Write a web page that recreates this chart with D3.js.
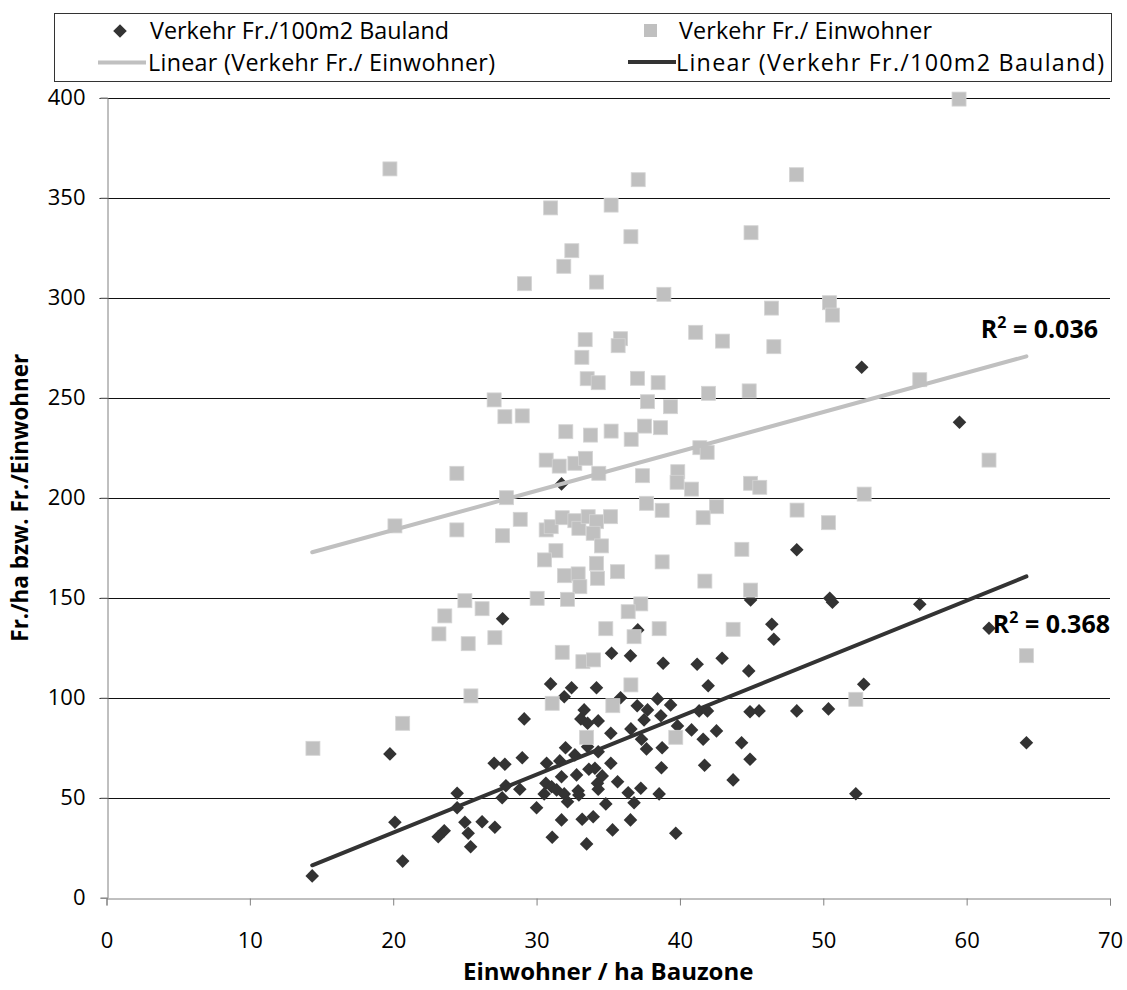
<!DOCTYPE html>
<html>
<head>
<meta charset="utf-8">
<script src="https://cdnjs.cloudflare.com/ajax/libs/d3/7.8.5/d3.min.js"></script>
<style>
  body { margin: 0; background: #fff; }
  svg text { font-family: "Open Sans", "Noto Sans", sans-serif; fill: #000; }
</style>
</head>
<body>
<svg id="chart" width="1127" height="990"></svg>
<script>
// values: [Einwohner/ha, Fr.]
var bauland = [
  [52.68,265.2],[59.5,237.7],[31.74,206.9],[48.15,174],[50.45,149.7],[50.64,147.7],[56.73,146.7],
  [44.93,148.9],[46.41,136.7],[46.55,129.2],[61.56,134.7],[64.17,77.5],[52.27,52],[52.82,106.7],
  [50.36,94.4],[48.15,93.4],[45.52,93.4],[44.89,93],[44.8,113.4],[42.94,119.7],[41.2,116.7],
  [41.97,106],[41.34,93.4],[41.92,93.4],[40.81,83.9],[42.55,83.4],[41.62,79.2],[44.3,77.5],
  [44.89,69.2],[41.72,66.2],[43.71,58.9],[27.63,139.5],[37.06,133.9],[35.23,122.2],[36.55,121],
  [38.83,117.2],[30.98,106.9],[32.44,105],[31.93,100.5],[34.18,105],[35.86,100],[37.02,96],
  [37.74,93.9],[38.44,99.4],[39.35,96.4],[38.67,91],[37.5,88.9],[39.83,85.9],[33.32,93.9],
  [33.09,89.4],[33.56,87.2],[34.3,88.4],[35.18,82.2],[36.58,84.4],[37.32,79.2],[37.67,74.4],
  [38.76,75],[38.71,65],[38.55,51.9],[39.71,32.2],[29.14,89.4],[19.77,71.9],[32.02,75],
  [32.67,71.4],[33.56,75.5],[34.3,73],[31.62,68.4],[30.7,67.2],[29.0,70],[27.79,66.7],
  [27.04,67.2],[35.18,67.2],[33.65,64.2],[34.07,64.7],[34.58,60.9],[32.79,61.4],[31.74,60.5],
  [34.25,57.2],[34.3,54.2],[35.65,58],[30.65,57.2],[31.05,55.5],[31.4,53.9],[31.93,51.9],
  [32.9,53.5],[32.95,51.4],[30.53,51.9],[32.16,48],[36.39,52.5],[37.27,54.7],[36.8,47.5],
  [34.83,46.9],[28.83,54.2],[27.86,56],[27.6,50],[30.0,45],[31.74,38.9],[33.18,39.2],
  [33.95,40.5],[36.55,38.9],[35.3,33.9],[31.09,30.2],[33.49,26.9],[24.46,52.2],[24.46,45],
  [20.12,37.7],[25.0,37.7],[26.2,38],[27.09,35.2],[25.23,32.2],[23.56,33.5],[23.14,30.5],
  [25.4,25.5],[20.66,18.3],[14.35,10.9]
];

var einwohner = [
  [59.47,399.3],[19.77,364.4],[37.09,359],[30.98,344.9],[35.2,346.3],[36.58,330.5],[32.46,323.5],
  [31.9,315.7],[29.16,307],[34.18,307.8],[38.88,301.7],[41.1,282.7],[33.39,279],[35.86,279.5],
  [35.69,276],[33.16,270.2],[33.53,259.5],[34.3,257.5],[37.04,259.7],[38.48,257.5],[27.04,248.9],
  [27.79,240.5],[29.0,240.9],[37.74,248],[39.34,245.5],[32.04,233],[33.76,231.3],[35.2,233.3],
  [37.53,235.8],[38.65,235],[36.6,229.2],[30.67,218.8],[31.58,215.8],[32.67,217.2],[33.42,219.7],
  [34.34,212.2],[24.44,212.2],[37.39,211],[39.85,213],[39.8,207.7],[40.81,204.3],[27.9,200],
  [20.12,185.9],[24.44,183.9],[27.63,181],[28.86,189.2],[30.67,183.9],[31.02,185.5],[31.79,190],
  [32.67,188.5],[32.95,184.7],[33.6,190.5],[34.18,188],[33.95,182.2],[35.16,190.5],[34.53,175.9],
  [31.35,173.5],[30.56,168.9],[34.18,167.2],[35.64,163],[38.76,167.9],[31.95,161],[32.9,161.9],
  [33.02,155.5],[34.25,159.7],[30.04,149.7],[32.16,149.2],[37.27,146.9],[36.39,143],[38.55,134.5],
  [34.83,134.5],[36.8,130.5],[25.0,148.5],[26.2,144.5],[23.6,140.9],[23.19,131.9],[25.23,127],
  [27.09,130],[31.79,122.7],[33.23,118],[33.97,118.9],[36.58,106.4],[25.42,100.9],[31.09,97.2],
  [35.32,96],[20.66,87.2],[33.49,80.2],[39.71,80.2],[14.4,74.7],[43.71,134.2],[64.17,121],
  [52.27,99.2],[48.13,361.5],[44.96,332.5],[46.39,294.8],[50.43,297.5],[50.64,291.3],[42.97,278.3],
  [46.55,275.5],[56.73,259],[41.99,252.2],[44.83,253.4],[41.39,225],[41.9,222.7],[44.93,207.2],
  [45.57,205.2],[52.85,201.8],[61.56,218.8],[38.76,193.7],[42.55,195.5],[41.62,190],[48.17,193.8],
  [50.36,187.5],[44.32,174.2],[41.74,158.3],[44.93,153.8],[37.67,197.2]
];

// linear trend lines as shown (slope, intercept) and their R² labels
var trendEinwohner = [1.966, 144.5];
var trendBauland = [2.899, -25.4];
var r2Labels = ["0.036", "0.368"];

var xTicks = [0, 10, 20, 30, 40, 50, 60, 70];
var yTicks = [0, 50, 100, 150, 200, 250, 300, 350, 400];

var seriesNames = ["Verkehr Fr./100m2 Bauland", "Verkehr Fr./ Einwohner",
                   "Linear (Verkehr Fr./ Einwohner)", "Linear (Verkehr Fr./100m2 Bauland)"];

var svg = d3.select("#chart");
var pLeft = 106.5, pRight = 1110, pTop = 97.7, pBottom = 897.7;
var LIGHT = "#c0c0c0", DARK = "#333333";

var x = d3.scaleLinear().domain([0, 70]).range([pLeft, pRight]);
var y = d3.scaleLinear().domain([0, 400]).range([pBottom, pTop]);

// grid
svg.append("g").attr("class", "grid")
  .selectAll("line").data(yTicks.filter(function(d){ return d > 0; }))
  .join("line")
    .attr("x1", pLeft - 7).attr("x2", pRight)
    .attr("y1", function(d){ return Math.round(y(d)) + 0.5; })
    .attr("y2", function(d){ return Math.round(y(d)) + 0.5; })
    .style("stroke", "#111").style("stroke-width", 1);

// axes
var yAxis = svg.append("g")
  .attr("transform", "translate(" + (Math.round(pLeft) + 0.5) + ",0)")
  .call(d3.axisLeft(y).tickValues(yTicks).tickSize(7).tickPadding(15).tickFormat(d3.format("d")));
var xAxis = svg.append("g")
  .attr("transform", "translate(0," + (Math.round(pBottom) + 0.5) + ")")
  .call(d3.axisBottom(x).tickValues(xTicks).tickSize(7).tickPadding(27).tickFormat(d3.format("d")));

[yAxis, xAxis].forEach(function(a){
  a.select(".domain").style("stroke", "#808080");
  a.selectAll(".tick line").style("stroke", "#808080");
  a.selectAll(".tick text").style("font-size", "22px").style("fill", "#000")
    .style("font-family", "\"Open Sans\", sans-serif");
});

// points
var diamond = d3.symbol().type(d3.symbolSquare).size(92);
svg.append("g").attr("class", "bauland")
  .selectAll("path").data(bauland).join("path")
    .attr("d", diamond)
    .attr("transform", function(d){ return "translate(" + x(d[0]) + "," + y(d[1]) + ") rotate(45)"; })
    .style("fill", DARK);

svg.append("g").attr("class", "einwohner")
  .selectAll("rect").data(einwohner).join("rect")
    .attr("x", function(d){ return x(d[0]) - 7; })
    .attr("y", function(d){ return y(d[1]) - 7; })
    .attr("width", 14).attr("height", 14)
    .style("fill", LIGHT).style("stroke", "#d4d4d4").style("stroke-width", 0.8);

// trend lines over the x extent of the data
var ext = d3.extent(bauland.concat(einwohner), function(d){ return d[0]; });
function trendLine(t, color){
  svg.append("path")
    .datum(ext.map(function(v){ return [v, t[0] * v + t[1]]; }))
    .attr("d", d3.line().x(function(d){ return x(d[0]); }).y(function(d){ return y(d[1]); }))
    .style("fill", "none").style("stroke", color).style("stroke-width", 4)
    .style("stroke-linecap", "round");
}
trendLine(trendEinwohner, LIGHT);
trendLine(trendBauland, DARK);

// R² labels
function r2(label, xr, yb){
  var t = svg.append("text")
    .attr("x", xr).attr("y", yb).attr("text-anchor", "end")
    .style("font-size", "25px").style("font-weight", "bold");
  t.append("tspan").text("R");
  t.append("tspan").attr("dy", -10).style("font-size", "16px").text("2");
  t.append("tspan").attr("dy", 10).text(" = " + label);
}
r2(r2Labels[0], 1098, 338);
r2(r2Labels[1], 1110, 633);

// axis titles
svg.append("text")
  .attr("x", (pLeft + pRight) / 2).attr("y", 980).attr("text-anchor", "middle")
  .style("font-size", "24px").style("font-weight", "bold")
  .text("Einwohner / ha Bauzone");
svg.append("text")
  .attr("transform", "translate(28," + (pTop + pBottom) / 2 + ") rotate(-90)")
  .attr("text-anchor", "middle")
  .style("font-size", "22.5px").style("font-weight", "bold")
  .text("Fr./ha bzw. Fr./Einwohner");

// legend
var lg = svg.append("g").attr("class", "legend");
lg.append("rect").attr("x", 54.5).attr("y", 13.5).attr("width", 1057).attr("height", 68)
  .style("fill", "#fff").style("stroke", "#333").style("stroke-width", 1);

lg.append("path").attr("d", diamond)
  .attr("transform", "translate(120,31) rotate(45)").style("fill", DARK);
lg.append("rect").attr("x", 644).attr("y", 24).attr("width", 13).attr("height", 13)
  .style("fill", LIGHT);
lg.append("line").attr("x1", 98).attr("x2", 146).attr("y1", 62.5).attr("y2", 62.5)
  .style("stroke", LIGHT).style("stroke-width", 4);
lg.append("line").attr("x1", 628).attr("x2", 676).attr("y1", 62).attr("y2", 62)
  .style("stroke", DARK).style("stroke-width", 4);

var legendPos = [[150, 39], [679, 39], [148, 71], [676, 71]];
var legendWidth = [299, 253, 347, 428];
lg.selectAll("text.item").data(seriesNames).join("text")
  .attr("class", "item")
  .attr("x", function(d, i){ return legendPos[i][0]; })
  .attr("y", function(d, i){ return legendPos[i][1]; })
  .attr("textLength", function(d, i){ return legendWidth[i]; })
  .attr("lengthAdjust", "spacing")
  .style("font-size", "23.3px")
  .text(function(d){ return d; });
</script>
</body>
</html>
